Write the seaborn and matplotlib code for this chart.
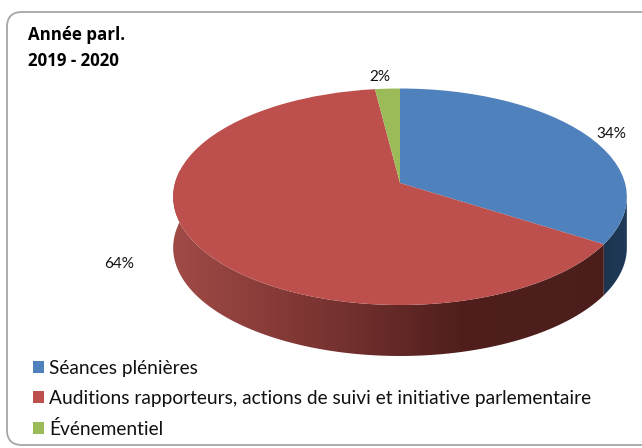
import numpy as np
import matplotlib
matplotlib.use("Agg")
import matplotlib.pyplot as plt
from matplotlib.patches import FancyBboxPatch, Polygon
from matplotlib.transforms import Transform
import seaborn as sns

categories = ["Séances plénières",
              "Auditions rapporteurs, actions de suivi et initiative parlementaire",
              "Événementiel"]
values = [34, 64, 2]
labels = ["34%", "64%", "2%"]
colors = ["#4f81bd", "#bd4f4c", "#9bbb59"]
wall_colors = [["#1c3550", "#1f3a58"],
               ["#a04a46", "#7c3532", "#501f1d", "#4b1e1c"],
               ["#6f8a3f", "#6f8a3f"]]
title = "Année parl.\n2019 - 2020"

sns.set_theme(style="white")
plt.rcParams["font.family"] = ["Lato", "DejaVu Sans"]

# pixel geometry of the tilted disc
CX, CY = 400, 183
SX, SY = 225, 106.5
K = 0.127
DEPTH = 51


class Tilt(Transform):
    # projective view of the unit disc, near side is bigger
    input_dims = 2
    output_dims = 2

    def transform_non_affine(self, v):
        v = np.asarray(v, dtype=float)
        w = 1 + K * v[:, 1]
        return np.column_stack([CX + SX * v[:, 0] / w, CY - SY * v[:, 1] / w])


fig = plt.figure(figsize=(6.42, 4.48), dpi=100)
ax = fig.add_axes([0, 0, 1, 1])

wedges, _ = ax.pie(values, colors=colors, startangle=90, counterclock=False,
                   radius=1, wedgeprops={"linewidth": 0})
ax.set_aspect("auto")
ax.set_xlim(0, 642)
ax.set_ylim(448, 0)
ax.axis("off")

tilt = Tilt()
for w in wedges:
    w.set_transform(tilt + ax.transData)
    w.set_zorder(3)

# side wall, only the front half of the rim shows
edge = np.degrees(np.arcsin(K))
for w, stops in zip(wedges, wall_colors):
    t1 = max(w.theta1, -180 - edge)
    t2 = min(w.theta2, -edge)
    if t2 <= t1:
        continue
    t = np.radians(np.linspace(t1, t2, 120))
    rim = tilt.transform_non_affine(np.column_stack([np.cos(t), np.sin(t)]))
    low = rim[::-1] + [0, DEPTH]
    poly = Polygon(np.vstack([rim, low]), closed=True, transform=ax.transData)
    x0, x1 = rim[:, 0].min(), rim[:, 0].max()
    cmap = sns.blend_palette(stops, n_colors=256, as_cmap=True)
    img = ax.imshow(np.linspace(0, 1, 256).reshape(1, -1), cmap=cmap, aspect="auto",
                    extent=[x0, x1, rim[:, 1].max() + DEPTH, rim[:, 1].min()], zorder=2)
    img.set_clip_path(poly)
ax.set_xlim(0, 642)
ax.set_ylim(448, 0)

# frame of the slide, runs off the right edge
ax.add_patch(FancyBboxPatch((7, 12), 660, 433, boxstyle="round,pad=0,rounding_size=15",
                            mutation_aspect=1, fc="none", ec="#a6a6a6", lw=1.3,
                            zorder=1, clip_on=True))

ax.text(28, 48, title, fontsize=12.2, fontweight="bold", color="black",
        family=["Open Sans", "DejaVu Sans"], linespacing=1.6, va="center", ha="left")

ax.text(611, 134, labels[0], fontsize=11, color="#111111", ha="center", va="center")
ax.text(119, 264, labels[1], fontsize=11, color="#111111", ha="center", va="center")
ax.text(380, 77, labels[2], fontsize=11, color="#111111", ha="center", va="center")

ax.legend(wedges, categories, loc="upper left", bbox_to_anchor=(33 / 642, 1 - 360 / 448),
          frameon=False, fontsize=13.75, handlelength=0.58, handleheight=0.58,
          handletextpad=0.27, labelspacing=0.68, borderpad=0, borderaxespad=0,
          labelcolor="#111111")

fig.savefig("out.png", dpi=100)
